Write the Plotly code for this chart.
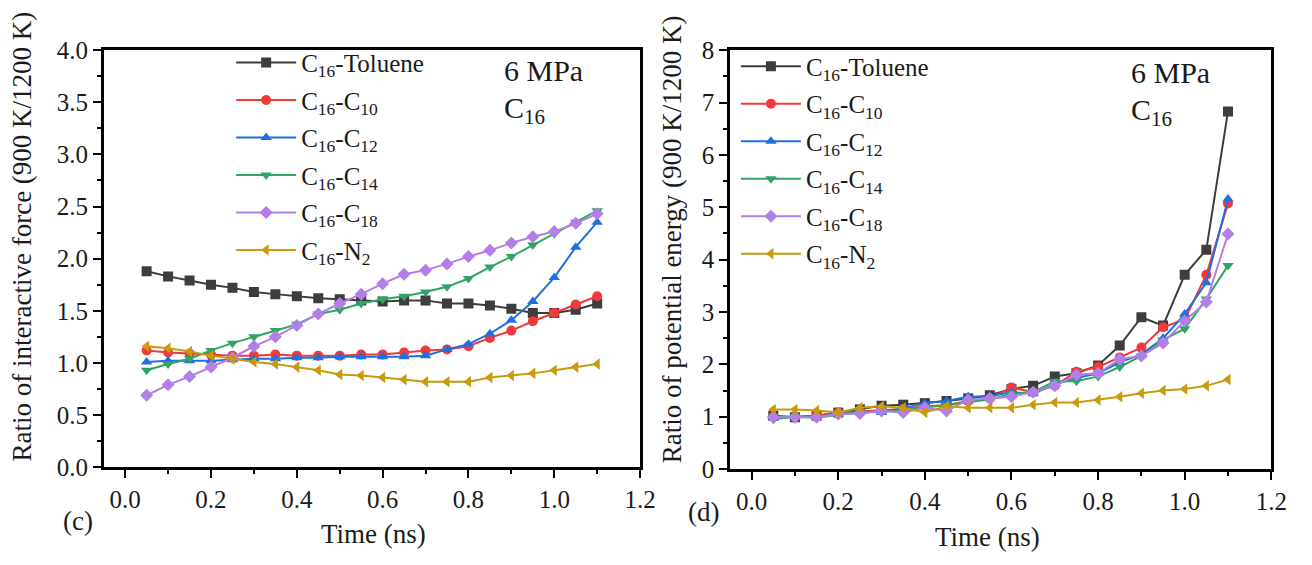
import plotly.graph_objects as go

W, H = 1312, 565

# Time points (ns)
time_ns = [0.05, 0.10, 0.15, 0.20, 0.25, 0.30, 0.35, 0.40, 0.45, 0.50, 0.55,
           0.60, 0.65, 0.70, 0.75, 0.80, 0.85, 0.90, 0.95, 1.00, 1.05, 1.10]

series_names = ["C<sub>16</sub>-Toluene", "C<sub>16</sub>-C<sub>10</sub>",
                "C<sub>16</sub>-C<sub>12</sub>", "C<sub>16</sub>-C<sub>14</sub>",
                "C<sub>16</sub>-C<sub>18</sub>", "C<sub>16</sub>-N<sub>2</sub>"]

# (c) ratio of interactive force (900 K / 1200 K)
force_toluene = [1.88, 1.83, 1.79, 1.75, 1.72, 1.68, 1.66, 1.64, 1.62, 1.61, 1.60,
                 1.59, 1.60, 1.60, 1.57, 1.57, 1.55, 1.52, 1.48, 1.48, 1.51, 1.57]
force_c10 = [1.12, 1.10, 1.09, 1.08, 1.07, 1.07, 1.08, 1.07, 1.07, 1.07, 1.08,
             1.08, 1.10, 1.12, 1.13, 1.16, 1.24, 1.31, 1.40, 1.48, 1.56, 1.64]
force_c12 = [1.01, 1.02, 1.02, 1.02, 1.03, 1.04, 1.04, 1.05, 1.05, 1.06, 1.06,
             1.06, 1.06, 1.07, 1.13, 1.18, 1.28, 1.41, 1.59, 1.82, 2.11, 2.35]
force_c14 = [0.93, 0.99, 1.04, 1.12, 1.19, 1.25, 1.31, 1.37, 1.47, 1.51, 1.57,
             1.61, 1.64, 1.68, 1.73, 1.81, 1.92, 2.02, 2.13, 2.24, 2.35, 2.46]
force_c18 = [0.69, 0.79, 0.87, 0.96, 1.05, 1.16, 1.25, 1.36, 1.47, 1.57, 1.66,
             1.76, 1.85, 1.89, 1.95, 2.02, 2.08, 2.15, 2.21, 2.26, 2.34, 2.43]
force_n2 = [1.16, 1.14, 1.11, 1.07, 1.04, 1.01, 0.99, 0.96, 0.93, 0.89, 0.88,
            0.86, 0.84, 0.82, 0.82, 0.82, 0.86, 0.88, 0.90, 0.93, 0.96, 0.99]

# (d) ratio of potential energy (900 K / 1200 K)
energy_toluene = [1.02, 0.99, 1.02, 1.08, 1.14, 1.21, 1.23, 1.26, 1.30, 1.35, 1.41,
                  1.53, 1.59, 1.77, 1.83, 1.98, 2.36, 2.90, 2.74, 3.71, 4.19, 6.83]
energy_c10 = [1.00, 1.00, 1.02, 1.08, 1.10, 1.13, 1.15, 1.20, 1.22, 1.30, 1.35,
              1.56, 1.47, 1.59, 1.86, 1.95, 2.13, 2.32, 2.71, 2.86, 3.71, 5.07]
energy_c12 = [0.98, 1.00, 1.00, 1.05, 1.10, 1.08, 1.16, 1.26, 1.30, 1.38, 1.39,
              1.47, 1.44, 1.62, 1.74, 1.83, 2.04, 2.19, 2.50, 2.96, 3.56, 5.16]
energy_c14 = [0.95, 1.00, 0.98, 1.04, 1.08, 1.10, 1.12, 1.18, 1.22, 1.28, 1.33,
              1.44, 1.47, 1.68, 1.68, 1.77, 1.95, 2.16, 2.47, 2.68, 3.25, 3.89]
energy_c18 = [0.99, 0.99, 0.99, 1.05, 1.06, 1.11, 1.08, 1.17, 1.11, 1.32, 1.35,
              1.38, 1.47, 1.59, 1.80, 1.83, 2.10, 2.16, 2.41, 2.83, 3.19, 4.49]
energy_n2 = [1.14, 1.14, 1.12, 1.08, 1.17, 1.20, 1.17, 1.08, 1.20, 1.17, 1.17,
             1.17, 1.23, 1.27, 1.27, 1.32, 1.38, 1.45, 1.50, 1.53, 1.59, 1.71]

colors = ["#3d3d3d", "#f03a3a", "#1f6fe0", "#2fa463", "#b27fe8", "#c99a0c"]
symbols = ["square", "circle", "triangle-up", "triangle-down", "diamond", "triangle-left"]

force_sets = [force_toluene, force_c10, force_c12, force_c14, force_c18, force_n2]
energy_sets = [energy_toluene, energy_c10, energy_c12, energy_c14, energy_c18, energy_n2]

SERIF = "Liberation Serif"
INK = "#1a1a1a"


def px(x):
    return x / W


def py(y):
    return 1 - y / H


fig = go.Figure()

for i, (name, ys) in enumerate(zip(series_names, force_sets)):
    fig.add_trace(go.Scatter(
        x=time_ns, y=ys, name=name, mode="lines+markers",
        line=dict(color=colors[i], width=2),
        marker=dict(symbol=symbols[i], size=10, color=colors[i]),
        xaxis="x", yaxis="y", legend="legend", legendgroup=f"c{i}"))

for i, (name, ys) in enumerate(zip(series_names, energy_sets)):
    fig.add_trace(go.Scatter(
        x=time_ns, y=ys, name=name, mode="lines+markers",
        line=dict(color=colors[i], width=2),
        marker=dict(symbol=symbols[i], size=10, color=colors[i]),
        xaxis="x2", yaxis="y2", legend="legend2", legendgroup=f"d{i}"))

axis_common = dict(
    showgrid=False, zeroline=False, showline=True, linecolor="black", linewidth=2.5,
    mirror=True, ticks="outside", ticklen=8, tickwidth=2, tickcolor="black",
    tickfont=dict(family=SERIF, size=25, color=INK),
)

x_common = dict(axis_common, range=[-0.05, 1.2], tick0=0, dtick=0.2,
                tickformat=".1f",
                minor=dict(ticks="outside", ticklen=4, tickwidth=2, dtick=0.1,
                           tick0=0, tickcolor="black"))

fig.update_layout(
    width=W, height=H,
    margin=dict(l=0, r=0, t=0, b=0),
    paper_bgcolor="white", plot_bgcolor="white",
    font=dict(family=SERIF, color=INK),
    showlegend=True,
    xaxis=dict(x_common, domain=[px(105), px(648)], anchor="y"),
    yaxis=dict(axis_common, domain=[py(477), py(39)], anchor="x",
               range=[0, 4.0], tick0=0, dtick=0.5, tickformat=".1f",
               minor=dict(ticks="outside", ticklen=4, tickwidth=2, dtick=0.25,
                          tick0=0, tickcolor="black")),
    xaxis2=dict(x_common, domain=[px(739), px(1287)], anchor="y2"),
    yaxis2=dict(axis_common, domain=[py(479), py(39)], anchor="x2",
                range=[0, 8], tick0=0, dtick=1,
                minor=dict(ticks="outside", ticklen=4, tickwidth=2, dtick=0.5,
                           tick0=0, tickcolor="black")),
    legend=dict(x=px(234), y=py(28), xanchor="left", yanchor="top",
                bgcolor="rgba(0,0,0,0)", font=dict(family=SERIF, size=25, color=INK),
                itemwidth=60, tracegroupgap=2),
    legend2=dict(x=px(745), y=py(32), xanchor="left", yanchor="top",
                 bgcolor="rgba(0,0,0,0)", font=dict(family=SERIF, size=25, color=INK),
                 itemwidth=60, tracegroupgap=2),
)

ann_font = dict(family=SERIF, size=27, color=INK)
big_font = dict(family=SERIF, size=30, color=INK)
annotations = [
    dict(text="Ratio of interactive force (900 K/1200 K)", x=px(22), y=py(235),
         textangle=-90, font=ann_font),
    dict(text="Ratio of potential energy (900 K/1200 K)", x=px(680), y=py(238),
         textangle=-90, font=ann_font),
    dict(text="Time (ns)", x=px(378), y=py(547), font=ann_font),
    dict(text="Time (ns)", x=px(1000), y=py(550), font=ann_font),
    dict(text="(c)", x=px(79), y=py(533), font=ann_font),
    dict(text="(d)", x=px(712), y=py(524), font=ann_font),
    dict(text="6 MPa", x=px(508), y=py(60), xanchor="left", font=big_font),
    dict(text="C<sub>16</sub>", x=px(508), y=py(102), xanchor="left", font=big_font),
    dict(text="6 MPa", x=px(1143), y=py(62), xanchor="left", font=big_font),
    dict(text="C<sub>16</sub>", x=px(1143), y=py(104), xanchor="left", font=big_font),
]
for a in annotations:
    a.update(xref="paper", yref="paper", showarrow=False)
    a.setdefault("xanchor", "center")
    a.setdefault("yanchor", "middle")
fig.update_layout(annotations=annotations)

fig.write_html("out.html")
